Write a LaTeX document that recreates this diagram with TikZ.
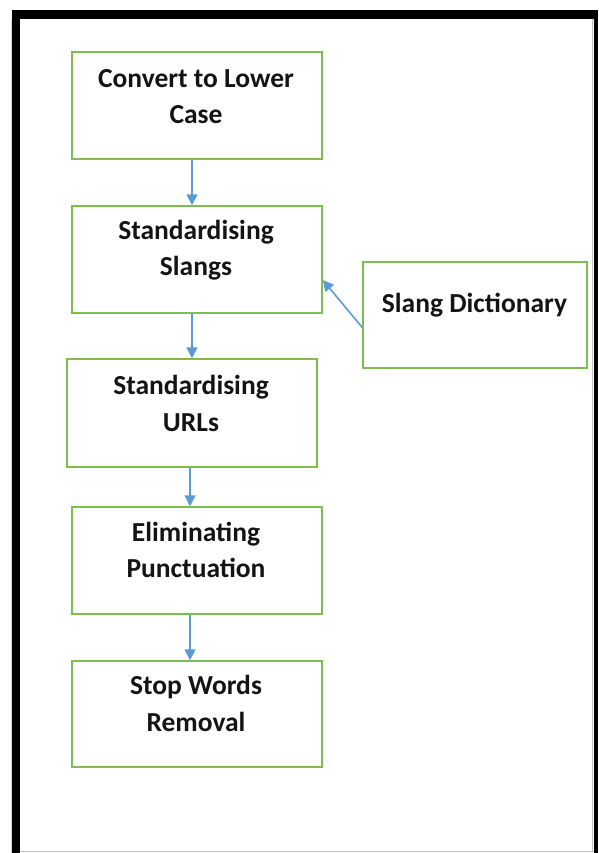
\documentclass[tikz,border=0pt]{standalone}
\usepackage{fontspec}
\setmainfont{Carlito}
\usetikzlibrary{arrows.meta}
\definecolor{boxgreen}{RGB}{125,190,80}
\definecolor{arrblue}{RGB}{91,155,213}
\definecolor{txt}{RGB}{20,20,20}
\tikzset{
  box/.style={draw=boxgreen, line width=1.5pt, minimum width=250pt, minimum height=107pt, inner sep=0pt},
  lbl/.style={align=center, text=txt, font=\fontsize{27.5}{36.5}\selectfont\bfseries, inner sep=0pt},
  arr/.style={draw=arrblue, line width=1.6pt, -{Triangle[length=11pt,width=11pt]}},
}
\begin{document}
\begin{tikzpicture}[x=1pt,y=-1pt]
\useasboundingbox (0,0) rectangle (598,853);
% frame
\fill[black] (12,10) rectangle (20,853);
\fill[black] (12,10) rectangle (598,19);
\fill[black] (594,10) rectangle (598,853);
\draw[gray!50, line width=1pt] (20,851) -- (594,851);
\draw[gray!50, line width=1pt] (592.5,19) -- (592.5,851);
\draw[gray!30, line width=0.8pt] (11,19) -- (11,853);
% boxes
\node[box] (b1) at (197,105.5) {};
\node[box] (b2) at (197,259.5) {};
\node[box, minimum height=108pt] (b3) at (192,413) {};
\node[box] (b4) at (197,560.5) {};
\node[box, minimum height=106pt] (b5) at (197,714) {};
\node[box, minimum width=224pt, minimum height=106pt] (d) at (475,315) {};
% labels
\node[lbl] (t1) at (196,96.5) {Convert to Lower\\Case};
\node[lbl] (t2) at (196,250) {Standardising\\Slangs};
\node[lbl] (t3) at (191,403.5) {Standardising\\URLs};
\node[lbl] (t4) at (196,550) {Eliminating\\Punctuation};
\node[lbl] (t5) at (196,703.5) {Stop Words\\Removal};
\node[lbl] (td) at (474.5,305) {Slang Dictionary};
% arrows
\draw[arr] ([xshift=-5pt]b1.south) -- ([xshift=-5pt]b2.north);
\draw[arr] ([xshift=-5pt]b2.south) -- (b3.north);
\draw[arr] ([xshift=-2pt]b3.south) -- ([xshift=-7pt]b4.north);
\draw[arr] ([xshift=-7pt]b4.south) -- ([xshift=-7pt]b5.north);
\draw[arr] ([yshift=-12.5pt]d.west) -- ([yshift=-20.5pt]b2.east);
\end{tikzpicture}
\end{document}
